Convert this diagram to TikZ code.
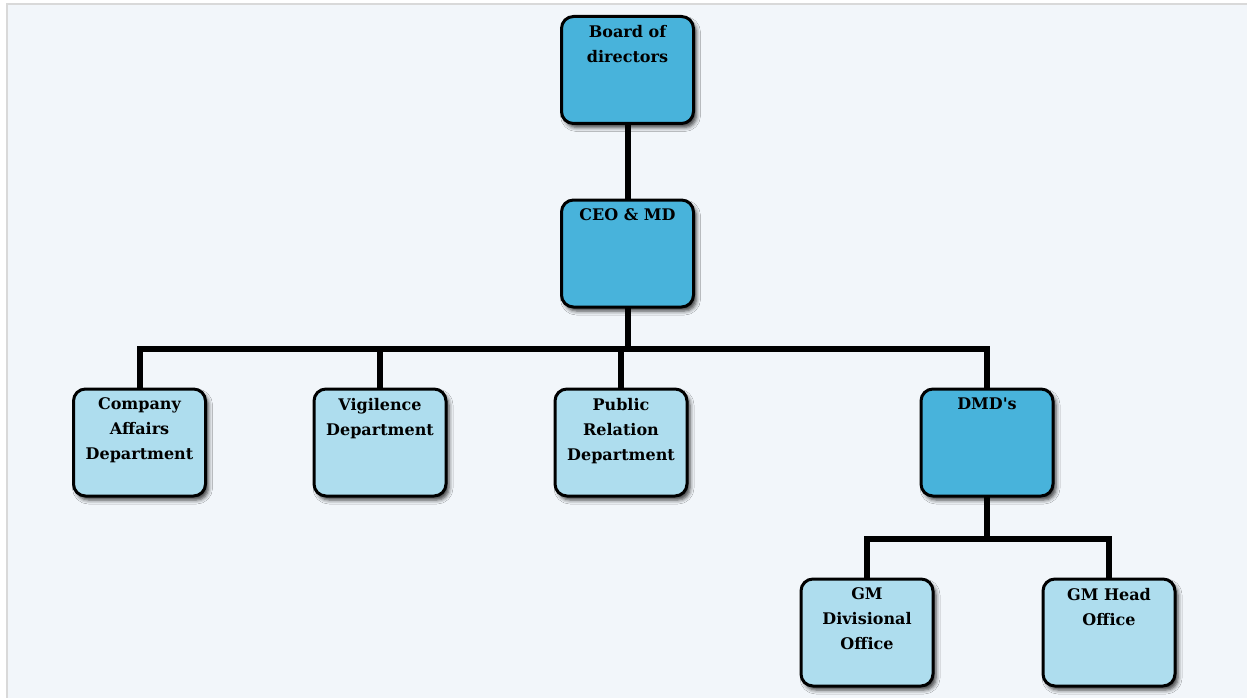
\documentclass[tikz,border=0pt]{standalone}
\usepackage{fontspec}
\setmainfont{DejaVu Serif}
\usepackage{tikz}
\usetikzlibrary{shadows.blur}
\definecolor{pagebg}{HTML}{F2F6FA}
\definecolor{frameline}{HTML}{D9D9D9}
\definecolor{headfill}{HTML}{48B3DB}
\definecolor{deptfill}{HTML}{AEDDEE}
\tikzset{%
  unit/.style={draw=black, line width=3pt, rounded corners=12pt,
    minimum width=132pt, minimum height=107pt, inner sep=0pt,
    font=\bfseries\fontsize{16}{25}\selectfont,
    blur shadow={shadow xshift=3pt, shadow yshift=-4pt, shadow blur radius=4pt, shadow opacity=75}},
  head/.style={unit, fill=headfill},
  dept/.style={unit, fill=deptfill},
  link/.style={line width=6pt, line join=miter}
}
\newcommand{\unittext}[1]{\parbox[c][89pt][t]{128pt}{\centering #1}}

\begin{document}
\begin{tikzpicture}[x=1pt,y=1pt]
\useasboundingbox (0,0) rectangle (1247,-698);
\fill[white] (0,0) rectangle (1247,-698);
\fill[pagebg] (7,-3) rectangle (1247,-698);
\draw[frameline, line width=2pt] (7,-698) -- (7,-4) -- (1247,-4);
% bus lines
\coordinate (busL) at (139.5,-349);
\coordinate (busR) at (987,-349);
\coordinate (subL) at (867,-539);
\coordinate (subR) at (1109,-539);
\draw[link] (627.5,-70) -- (627.5,-349);
\draw[link] (139.5,-442) -- (busL) -- (busR) -- (987,-442);
\draw[link] (380,-349) -- (380,-442);
\draw[link] (621,-349) -- (621,-442);
\draw[link] (987,-442) -- (987,-539);
\draw[link] (867,-632) -- (subL) -- (subR) -- (1109,-632);
% boxes
\node[head] (board) at (627.5,-70) {\unittext{Board of\\directors}};
\node[head] (ceo) at (627.5,-253.5) {\unittext{CEO \& MD}};
\node[dept] (affairs) at (139.5,-442.5) {\unittext{Company\\Affairs\\Department}};
\node[dept] (vigil) at (380,-442.5) {\unittext{Vigilence\\Department}};
\node[dept] (relation) at (621,-442.5) {\unittext{Public\\Relation\\Department}};
\node[head] (dmd) at (987,-442.5) {\unittext{DMD\textquotesingle s}};
\node[dept] (gmdiv) at (867,-632.5) {\unittext{GM\\Divisional\\Office}};
\node[dept] (gmhead) at (1109,-632.5) {\unittext{GM Head\\Office}};
\end{tikzpicture}
\end{document}
